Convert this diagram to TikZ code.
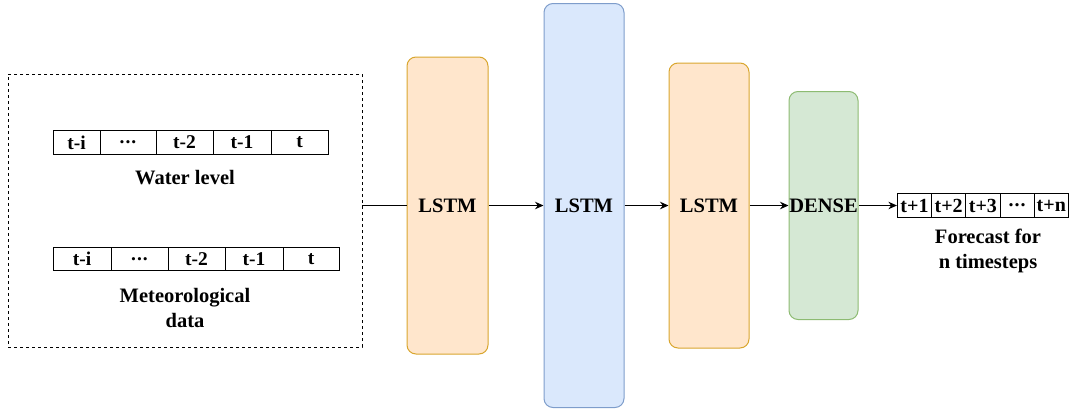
\documentclass[tikz,border=0pt]{standalone}
\usepackage{fontspec}
\setmainfont{Liberation Serif}[BoldFont={Liberation Serif Bold}]
\newfontfamily\tnrb{Liberation Serif Bold}
\usetikzlibrary{arrows.meta}
\definecolor{orfill}{HTML}{FFE6CC}
\definecolor{orline}{HTML}{D9A62E}
\definecolor{blfill}{HTML}{DAE8FC}
\definecolor{blline}{HTML}{7E9DCB}
\definecolor{grfill}{HTML}{D5E8D4}
\definecolor{grline}{HTML}{8DBB72}
\begin{document}
\begin{tikzpicture}[x=1pt,y=-1pt,
  layer/.style={draw, line width=1pt, rounded corners=9pt, inner sep=0pt,
    font=\tnrb\fontsize{20.5}{22}\selectfont},
  cell/.style={draw, line width=1pt, inner sep=0pt, minimum height=23.5pt,
    font=\tnrb\fontsize{19.5}{20}\selectfont},
  fcell/.style={draw, line width=1pt, inner sep=0pt, minimum height=24pt, minimum width=34.2pt,
    font=\tnrb\fontsize{20}{21}\selectfont},
  lbl/.style={align=center, inner sep=0pt, font=\tnrb\fontsize{20.5}{25}\selectfont},
  conn/.style={line width=1pt},
  arr/.style={line width=1pt, -{Stealth[length=8.5pt,width=7.5pt]}}]
\useasboundingbox (0,0) rectangle (1069,410);

% input box
\node[draw, dashed, line width=0.8pt, minimum width=354pt, minimum height=273pt, inner sep=0pt] (inbox) at (185,210.5) {};

% water level row
\node[cell, minimum width=47pt] (w1) at (76.5,142.5) {t-i};
\node[cell, minimum width=56pt] (w2) at (128,142.5) {.\kern1pt.\kern1pt.};
\node[cell, minimum width=57pt] (w3) at (184.5,142.5) {t-2};
\node[cell, minimum width=58pt] (w4) at (242,142.5) {t-1};
\node[cell, minimum width=57pt] (w5) at (299.5,142.5) {t};
\node[lbl] (wl) at (185,178) {Water level};

% meteorological row
\node[cell, minimum width=58pt] (m1) at (82,259) {t-i};
\node[cell, minimum width=57pt] (m2) at (139.5,259) {.\kern1pt.\kern1pt.};
\node[cell, minimum width=57pt] (m3) at (196.5,259) {t-2};
\node[cell, minimum width=58pt] (m4) at (254,259) {t-1};
\node[cell, minimum width=56pt] (m5) at (311,259) {t};
\node[lbl] (ml) at (185,307.5) {Meteorological\\data};

% layers
\node[layer, fill=orfill, draw=orline, minimum width=81pt, minimum height=297pt] (l1) at (447.5,205.5) {LSTM};
\node[layer, fill=blfill, draw=blline, minimum width=80pt, minimum height=404pt] (l2) at (584,205.5) {LSTM};
\node[layer, fill=orfill, draw=orline, minimum width=80pt, minimum height=285pt] (l3) at (709,205.5) {LSTM};
\node[layer, fill=grfill, draw=grline, minimum width=69pt, minimum height=228pt] (d) at (823.5,205.5) {DENSE};

% forecast row
\node[fcell] (f1) at (914.5,205.5) {t+1};
\node[fcell] (f2) at (948.7,205.5) {t+2};
\node[fcell] (f3) at (982.9,205.5) {t+3};
\node[fcell] (f4) at (1017.1,205.5) {.\kern1pt.\kern1pt.};
\node[fcell] (f5) at (1051.3,205.5) {t+n};
\node[lbl] (fl) at (988,251) {Forecast for\\n timesteps};

% connectors
\draw[conn] (inbox.east |- l1.west) -- (l1.west);
\draw[arr] (l1.east) -- (l2.west);
\draw[arr] (l2.east) -- (l3.west);
\draw[arr] (l3.east) -- (d.west);
\draw[arr] (d.east) -- (f1.west);
\end{tikzpicture}
\end{document}
